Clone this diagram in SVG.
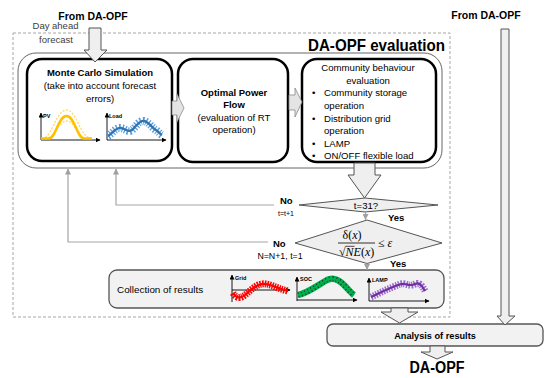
<svg xmlns="http://www.w3.org/2000/svg" width="550" height="378" viewBox="0 0 550 378">
<defs>
<marker id="ax" markerUnits="userSpaceOnUse" markerWidth="5" markerHeight="5" refX="4.5" refY="2.5" orient="auto"><path d="M0,0 L5,2.5 L0,5 z" fill="#000"/></marker>
<marker id="ga" markerUnits="userSpaceOnUse" markerWidth="6" markerHeight="6" refX="5.5" refY="3" orient="auto"><path d="M0,0 L6,3 L0,6 z" fill="#a0a0a0"/></marker>
<style>
text{font-family:"Liberation Sans",Arial,sans-serif;fill:#000}
.b{font-weight:bold}
.t{font-size:9.6px}
.c{text-anchor:middle}
.box{fill:#fff;stroke:#000;stroke-width:2.5}
.blk{fill:#efefef;stroke:#555;stroke-width:1}
.fb{fill:none;stroke:#a6a6a6;stroke-width:1.2;marker-end:url(#ga)}
.axis{fill:none;stroke:#000;stroke-width:0.9;marker-end:url(#ax)}
.lbl{font-size:5.5px;font-weight:bold}
.dia{fill:#efefef;stroke:#555;stroke-width:1}
.gbox{fill:#f2f2f2;stroke:#555;stroke-width:1.3}
.m{font-family:"Liberation Serif","Times New Roman",serif;font-size:12px}
</style>
</defs>
<rect width="550" height="378" fill="#fff"/>

<!-- dashed evaluation frame -->
<g id="eval-frame">
<rect x="13" y="33" width="437" height="284" fill="none" stroke="#a6a6a6" stroke-width="1" stroke-dasharray="3 2"/>
<text class="b" x="445" y="50.5" font-size="16.5" text-anchor="end" textLength="137" lengthAdjust="spacingAndGlyphs">DA-OPF evaluation</text>
</g>

<g id="top-labels">
<text class="b c" x="93" y="19.5" font-size="10.5">From DA-OPF</text>
<text class="c" x="55.5" y="28.5" font-size="9.5" style="fill:#404040">Day ahead</text>
<text class="c" x="56" y="42.5" font-size="9.5" style="fill:#404040">forecast</text>
<text class="b c" x="486" y="18.5" font-size="10.5">From DA-OPF</text>
</g>

<!-- outer container -->
<g id="container">
<rect x="18" y="53" width="424" height="115" rx="18" fill="#fff" stroke="#666" stroke-width="1"/>
</g>

<g id="box-montecarlo">
<rect class="box" x="27" y="59" width="145" height="102" rx="15"/>
<text class="b c" x="100" y="76" font-size="9.5">Monte Carlo Simulation</text>
<text class="t c" x="100" y="89">(take into account forecast</text>
<text class="t c" x="100" y="102">errors)</text>
<!-- PV chart -->
<path class="axis" d="M41,140 L41,113"/>
<path class="axis" d="M41,140 L100,140"/>
<text class="lbl" x="43" y="118">PV</text>
<path d="M42,138.5 C52,138.5 56,110 66.5,110 C77,110 80,138.5 92,138.5" fill="none" stroke="#ffd966" stroke-width="1.3" stroke-dasharray="2 1.5"/>
<path d="M45,138.5 C55,138.5 58,121 67,121 C75,121 77,138.5 87,138.5" fill="none" stroke="#ffd966" stroke-width="1.3" stroke-dasharray="2 1.5"/>
<path d="M41,138.5 L49,138.5 C56,138.5 58,116 66.5,116 C75,116 77,138.5 84,138.5 L92,138.5" fill="none" stroke="#ffc000" stroke-width="2.5"/>
<!-- Load chart -->
<path class="axis" d="M107,140 L107,113"/>
<path class="axis" d="M107,140 L166,140"/>
<text class="lbl" x="109" y="118">Load</text>
<path d="M108,136 C113,133 116,127 121,128 C126,129 128,133 132,130 C136,127 139,120 144,121 C149,122 152,128 156,130 C159,132 160,134 162,135" fill="none" stroke="#5b9bd5" stroke-width="8" stroke-dasharray="1.2 1.6"/>
<path d="M108,136 C113,133 116,127 121,128 C126,129 128,133 132,130 C136,127 139,120 144,121 C149,122 152,128 156,130 C159,132 160,134 162,135" fill="none" stroke="#2e75b6" stroke-width="2.3"/>
</g>

<g id="box-opf">
<rect class="box" x="178" y="59" width="110" height="103" rx="15"/>
<text class="b c" x="234" y="95.5" font-size="9.5">Optimal Power</text>
<text class="b c" x="234" y="108" font-size="9.5">Flow</text>
<text class="t c" x="234" y="120.5">(evaluation of RT</text>
<text class="t c" x="234" y="133">operation)</text>
</g>

<g id="box-community">
<rect class="box" x="302" y="59" width="134" height="103" rx="15"/>
<text class="t c" x="368" y="70.5">Community behaviour</text>
<text class="t c" x="368" y="83.5">evaluation</text>
<text class="t" x="312" y="96">•</text><text class="t" x="324" y="96">Community storage</text>
<text class="t" x="324" y="108.5">operation</text>
<text class="t" x="312" y="121.5">•</text><text class="t" x="324" y="121.5">Distribution grid</text>
<text class="t" x="324" y="134">operation</text>
<text class="t" x="312" y="146.5">•</text><text class="t" x="324" y="146.5">LAMP</text>
<text class="t" x="312" y="159">•</text><text class="t" x="324" y="159">ON/OFF flexible load</text>
</g>

<g id="diamond-t">
<polygon class="dia" points="299,205 365,198 438,205 365,212"/>
<text class="t c" x="366" y="208.5">t=31?</text>
</g>

<g id="diamond-conv">
<polygon class="dia" points="295,243 367,220 442,243 367,263.5"/>
<text class="m" x="352" y="239" text-anchor="middle">δ(<tspan font-style="italic">x</tspan>)</text>
<line x1="338" y1="243" x2="375" y2="243" stroke="#000" stroke-width="0.8"/>
<text class="m" x="339" y="256">√<tspan font-style="italic">NE</tspan>(<tspan font-style="italic">x</tspan>)</text>
<line x1="345.5" y1="246.3" x2="354.5" y2="246.3" stroke="#000" stroke-width="0.7"/>
<text class="m" x="378" y="247">≤ <tspan font-style="italic">ε</tspan></text>
</g>

<g id="box-collection">
<rect class="gbox" x="109" y="270" width="335" height="38" rx="8"/>
<text x="117" y="292.5" font-size="9.9">Collection of results</text>
<!-- Grid chart -->
<path class="axis" d="M232,302 L232,275"/>
<path class="axis" d="M232,290 L290,290"/>
<text class="lbl" x="235" y="279.5">Grid</text>
<path d="M233,293 C236,298 240,299 245,295 C250,291 255,285 262,284 C270,283 275,288 288,291" fill="none" stroke="#ff0000" stroke-width="7" stroke-dasharray="1.5 1"/>
<path d="M233,293 C236,298 240,299 245,295 C250,291 255,285 262,284 C270,283 275,288 288,291" fill="none" stroke="#ff0000" stroke-width="2.2"/>
<!-- SOC chart -->
<path class="axis" d="M297,301 L297,277"/>
<path class="axis" d="M297,300 L357,300"/>
<text class="lbl" x="300" y="281">SOC</text>
<path d="M298,295 C308,293 318,285 327,280 C333,277 338,279 344,285 C348,289 351,293 354,295" fill="none" stroke="#00b050" stroke-width="6.5"/>
<path d="M298,295 C308,293 318,285 327,280 C333,277 338,279 344,285 C348,289 351,293 354,295" fill="none" stroke="#1a3a1a" stroke-width="5" stroke-dasharray="1 2.5"/>
<path d="M298,295 C308,293 318,285 327,280 C333,277 338,279 344,285 C348,289 351,293 354,295" fill="none" stroke="#00b050" stroke-width="1.8"/>
<!-- LAMP chart -->
<path class="axis" d="M369,301 L369,278"/>
<path class="axis" d="M369,301 L429,301"/>
<text class="lbl" x="372" y="282">LAMP</text>
<path d="M371,297 C378,294 385,290 393,287 C398,285 401,283 405,284 C409,285 411,286 415,284 C419,282 422,285 425,291" fill="none" stroke="#9b6bcf" stroke-width="7" stroke-dasharray="1.5 1.2"/>
<path d="M371,297 C378,294 385,290 393,287 C398,285 401,283 405,284 C409,285 411,286 415,284 C419,282 422,285 425,291" fill="none" stroke="#7030a0" stroke-width="2.2"/>
</g>

<g id="box-analysis">
<rect class="gbox" x="327" y="324" width="216" height="22" rx="6"/>
<text class="b c" x="435" y="338.5" font-size="9.2">Analysis of results</text>
</g>

<g id="result-label">
<text class="b c" x="437" y="373" font-size="16" textLength="55" lengthAdjust="spacingAndGlyphs">DA-OPF</text>
</g>

<g id="connectors">
<!-- top-left block arrow -->
<polygon class="blk" points="89,28 101,28 101,50 107,50 95,62 84,50 89,50"/>
<!-- box to box arrows -->
<polygon points="172,101 177,101 177,94 184,108 177,122 177,115 172,115" fill="#e4e4e4" stroke="#888" stroke-width="0.8"/>
<polygon points="289,95 295,95 295,88 302,102 295,117 295,110 289,110" fill="#e4e4e4" stroke="#888" stroke-width="0.8"/>
<!-- community to diamond -->
<polygon class="blk" points="354,163 375,163 375,175 381,175 364.5,198 348,175 354,175"/>
<!-- diamond to diamond -->
<line x1="365.5" y1="212" x2="365.5" y2="219.5" stroke="#a0a0a0" stroke-width="1.2" marker-end="url(#ga)"/>
<line x1="367" y1="263.5" x2="367" y2="269.5" stroke="#a0a0a0" stroke-width="1.2" marker-end="url(#ga)"/>
<!-- feedback loops -->
<polyline class="fb" points="274,205 116,205 116,169"/>
<polyline class="fb" points="268,242 68,242 68,169"/>
<!-- collection to analysis -->
<polygon class="blk" points="391,308 408,308 408,312 418,312 399.5,323 381,312 391,312"/>
<!-- right long arrow -->
<polygon class="blk" points="501,29 509,29 509,316 515,316 505,325 497,316 501,316"/>
<!-- analysis to DA-OPF -->
<polygon class="blk" points="430,346 445,346 445,352 453,352 437,359 421,352 430,352"/>
<!-- labels -->
<text class="b" x="280" y="204" font-size="9.5">No</text>
<text x="286" y="216" font-size="7" text-anchor="middle">t=t+1</text>
<text class="b" x="388" y="221" font-size="9.5">Yes</text>
<text class="b" x="273" y="247" font-size="9.5">No</text>
<text x="280" y="259" font-size="8.8" text-anchor="middle">N=N+1, t=1</text>
<text class="b" x="390" y="267" font-size="9.5">Yes</text>
</g>
</svg>
